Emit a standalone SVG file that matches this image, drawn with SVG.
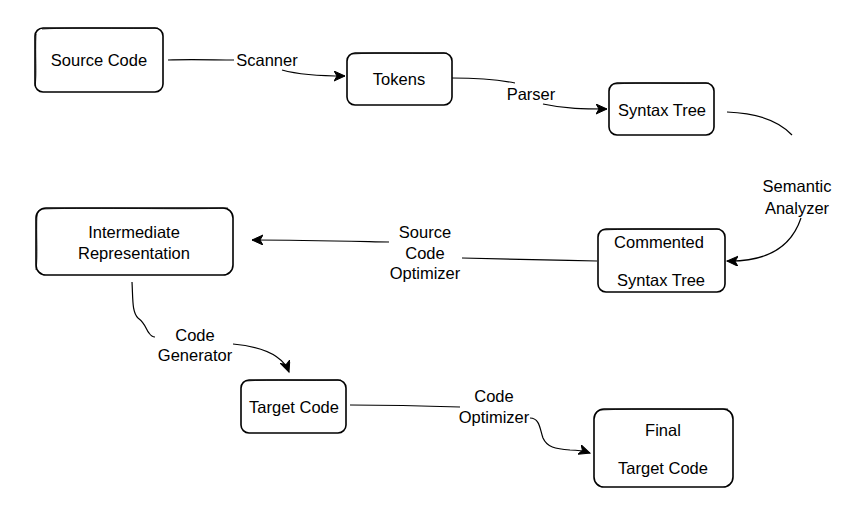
<svg xmlns="http://www.w3.org/2000/svg" width="864" height="512" viewBox="0 0 864 512">
<style>
.box{fill:#fff;stroke:#000;stroke-width:1.6;}
.box2{fill:none;stroke:#000;stroke-width:0.8;}
.lbl{font-family:"Liberation Sans",Arial,sans-serif;font-size:16.5px;fill:#000;text-anchor:middle;}
.c{fill:none;stroke:#000;stroke-width:1.2;}
</style>
<defs>
<marker id="ah" markerUnits="userSpaceOnUse" markerWidth="14" markerHeight="12" refX="11" refY="5" orient="auto">
<path d="M0,0 L11,5 L0,10 L3,5 Z" fill="#000" stroke="#000" stroke-width="1"/>
</marker>
</defs>
<rect width="864" height="512" fill="#fff"/>
<g id="connectors">
<path class="c" d="M168,60 C190,59 215,60 234,60"/>
<path class="c" d="M282,70 C300,75 320,76 345,76" marker-end="url(#ah)"/>
<path class="c" d="M452,78 C480,78 500,80 515,83"/>
<path class="c" d="M543,104 C565,109 585,109 607,109" marker-end="url(#ah)"/>
<path class="c" d="M727,112 C755,113 778,120 792,135"/>
<path class="c" d="M801,218 C792,245 770,262 727,261" marker-end="url(#ah)"/>
<path class="c" d="M597,261 C550,260 500,259 462,258"/>
<path class="c" d="M389,242 C340,241 300,240 252,240" marker-end="url(#ah)"/>
<path class="c" d="M132,282 C133,300 132,312 138,318 C146,324 146,330 149,333 C151,336 153,337 155,337"/>
<path class="c" d="M233,344 C265,347 283,356 289,372" marker-end="url(#ah)"/>
<path class="c" d="M350,405 C390,405 430,406 460,407"/>
<path class="c" d="M530,418 C540,418 540,430 543,438 C547,447 555,449 570,450 C578,450 584,451 590,453" marker-end="url(#ah)"/>
</g>
<g id="n-source">
<rect class="box" x="35" y="28" width="128" height="64" rx="8"/>
<path class="box2" d="M42,29 C80,27 130,29 158,28 M36,34 C35,55 37,75 35,86"/>
<text class="lbl" x="99" y="66">Source Code</text>
</g>
<g id="n-tokens">
<rect class="box" x="347" y="53" width="105" height="52" rx="8"/>
<path class="box2" d="M352,54 C380,52 420,54 447,53"/>
<text class="lbl" x="399" y="85">Tokens</text>
</g>
<g id="n-syntax">
<rect class="box" x="609" y="83" width="105" height="52" rx="8"/>
<path class="box2" d="M614,84 C640,82 680,84 709,83"/>
<text class="lbl" x="662" y="116">Syntax Tree</text>
</g>
<g id="n-ir">
<rect class="box" x="36" y="208" width="197" height="67" rx="10"/>
<path class="box2" d="M42,209 C100,207 180,210 228,208 M37,214 C36,235 38,255 36,270"/>
<text class="lbl" x="134" y="238">Intermediate</text>
<text class="lbl" x="134" y="259">Representation</text>
</g>
<g id="n-commented">
<rect class="box" x="598" y="229" width="127" height="63" rx="8"/>
<path class="box2" d="M603,230 C640,228 690,230 720,229"/>
<text class="lbl" x="659" y="248">Commented</text>
<text class="lbl" x="661" y="286">Syntax Tree</text>
</g>
<g id="n-target">
<rect class="box" x="241" y="380" width="105" height="53" rx="8"/>
<path class="box2" d="M246,381 C270,379 310,381 341,380"/>
<text class="lbl" x="294" y="413">Target Code</text>
</g>
<g id="n-final">
<rect class="box" x="594" y="409" width="139" height="78" rx="10"/>
<path class="box2" d="M600,410 C640,408 690,410 728,409"/>
<text class="lbl" x="663" y="436">Final</text>
<text class="lbl" x="663" y="474">Target Code</text>
</g>
<g id="labels">
<text class="lbl" x="267" y="66">Scanner</text>
<text class="lbl" x="531" y="100">Parser</text>
<text class="lbl" x="797" y="192">Semantic</text>
<text class="lbl" x="797" y="214">Analyzer</text>
<text class="lbl" x="425" y="238">Source</text>
<text class="lbl" x="425" y="259">Code</text>
<text class="lbl" x="425" y="279">Optimizer</text>
<text class="lbl" x="195" y="341">Code</text>
<text class="lbl" x="195" y="361">Generator</text>
<text class="lbl" x="494" y="402">Code</text>
<text class="lbl" x="494" y="423">Optimizer</text>
</g>
</svg>
